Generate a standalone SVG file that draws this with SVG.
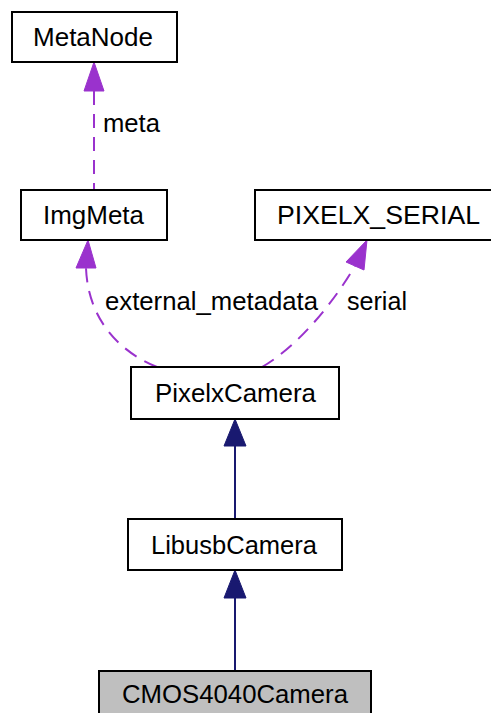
<svg xmlns="http://www.w3.org/2000/svg" width="491" height="713" viewBox="0 0 491 713">
<style>
.box{fill:#ffffff;stroke:#000000;stroke-width:2}
.cur{fill:#bfbfbf;stroke:#000000;stroke-width:2}
.t{font-family:"Liberation Sans",Arial,sans-serif;font-size:26px;fill:#000000}
.usage{fill:none;stroke:#9a32cd;stroke-width:2;stroke-dasharray:14,9}
.inh{fill:none;stroke:#191970;stroke-width:2}
.hu{fill:#9a32cd;stroke:#9a32cd;stroke-width:1}
.hi{fill:#191970;stroke:#191970;stroke-width:1}
</style>
<rect width="491" height="713" fill="#ffffff"/>
<g id="connectors">
<path class="usage" d="M94,91 L94,190"/>
<polygon class="hu" points="94,62 84,91 104,91"/>
<path class="usage" d="M157,367 C120,352 88,320 86,268"/>
<polygon class="hu" points="88,240 76,268 96,268"/>
<path class="usage" d="M262,367 C300,345 335,300 355,266"/>
<polygon class="hu" points="367,240 346,262 364,270"/>
<path class="inh" d="M235,446 L235,519"/>
<polygon class="hi" points="235,419 224,446 246,446"/>
<path class="inh" d="M235,598 L235,671"/>
<polygon class="hi" points="235,570 224,598 246,598"/>
<text class="t" x="103" y="132" textLength="57" lengthAdjust="spacingAndGlyphs">meta</text>
<text class="t" x="105" y="310" textLength="213" lengthAdjust="spacingAndGlyphs">external_metadata</text>
<text class="t" x="347" y="310" textLength="60" lengthAdjust="spacingAndGlyphs">serial</text>
</g>
<g id="MetaNode">
<rect class="box" x="12" y="12" width="165" height="50"/>
<text class="t" x="33" y="46" textLength="120" lengthAdjust="spacingAndGlyphs">MetaNode</text>
</g>
<g id="ImgMeta">
<rect class="box" x="21" y="190" width="146" height="50"/>
<text class="t" x="43" y="224" textLength="101" lengthAdjust="spacingAndGlyphs">ImgMeta</text>
</g>
<g id="PIXELX_SERIAL">
<rect class="box" x="255" y="190" width="245" height="50"/>
<text class="t" x="277" y="224" textLength="203" lengthAdjust="spacingAndGlyphs">PIXELX_SERIAL</text>
</g>
<g id="PixelxCamera">
<rect class="box" x="131" y="367" width="208" height="52"/>
<text class="t" x="155" y="402" textLength="161" lengthAdjust="spacingAndGlyphs">PixelxCamera</text>
</g>
<g id="LibusbCamera">
<rect class="box" x="128" y="519" width="214" height="51"/>
<text class="t" x="151" y="554" textLength="166" lengthAdjust="spacingAndGlyphs">LibusbCamera</text>
</g>
<g id="CMOS4040Camera">
<rect class="cur" x="99" y="671" width="272" height="60"/>
<text class="t" x="122" y="703" textLength="226" lengthAdjust="spacingAndGlyphs">CMOS4040Camera</text>
</g>
</svg>
